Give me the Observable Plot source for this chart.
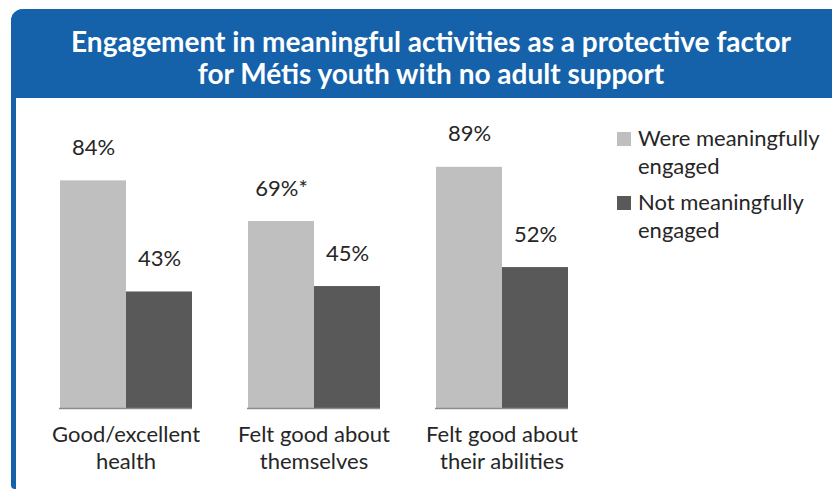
<!DOCTYPE html>
<html>
<head>
<meta charset="utf-8">
<script src="https://cdn.jsdelivr.net/npm/d3@7"></script>
<script src="https://cdn.jsdelivr.net/npm/@observablehq/plot@0.6"></script>
<style>
  html, body { margin: 0; padding: 0; background: #fff; overflow: hidden; width: 832px; height: 491px; }
  body { position: relative; font-family: Lato, "Noto Sans", sans-serif; color: #262626; }
  #frame { position: absolute; left: 11px; top: 9px; width: 840px; height: 480px; border-left: 5px solid #1562ab; border-top-left-radius: 12px; border-bottom-left-radius: 4px; box-sizing: border-box; }
  #header { position: absolute; left: 11px; top: 9px; width: 840px; height: 89px; background: #1562ab; border-top-left-radius: 12px; color: #fff; font-weight: bold; font-size: 28px; line-height: 32px; text-align: center; padding-top: 16px; box-sizing: border-box; }
  #chart { position: absolute; left: 17px; top: 98px; }
  #legend { position: absolute; left: 617px; top: 124px; font-size: 22px; line-height: 28px; }
  .item { display: flex; align-items: flex-start; margin-bottom: 8px; }
  .sw { width: 14px; height: 14px; margin-top: 8px; margin-right: 7px; flex: none; }
</style>
</head>
<body>
<div id="frame"></div>
<div id="header">Engagement in meaningful activities as a protective factor<br>for Métis youth with no adult support</div>
<div id="chart"></div>
<div id="legend"></div>
<script>
const categories = ["Good/excellent\nhealth", "Felt good about\nthemselves", "Felt good about\ntheir abilities"];
const seriesNames = ["Were meaningfully engaged", "Not meaningfully engaged"];
const legendLabels = ["Were meaningfully\nengaged", "Not meaningfully\nengaged"];
const engagedValues = [84, 69, 89];
const notEngagedValues = [43, 45, 52];
const engagedNotes = ["", "*", ""];
const notEngagedNotes = ["", "", ""];
const seriesColors = ["#bfbfbf", "#595959"];

const data = [];
categories.forEach((c, i) => {
  data.push({category: c, series: seriesNames[0], value: engagedValues[i], label: engagedValues[i] + "%" + engagedNotes[i]});
  data.push({category: c, series: seriesNames[1], value: notEngagedValues[i], label: notEngagedValues[i] + "%" + notEngagedNotes[i]});
});

const chart = Plot.plot({
  width: 583,
  height: 393,
  marginLeft: 14,
  marginRight: 3,
  marginTop: 39,
  marginBottom: 83,
  style: {background: "transparent", fontFamily: "Lato, 'Noto Sans', sans-serif", fontSize: "22px", color: "#262626"},
  fx: {domain: categories, paddingInner: 0.29, paddingOuter: 0.145, axis: null, label: null},
  x: {domain: seriesNames, padding: 0, axis: null, label: null},
  y: {domain: [0, 100], axis: null, label: null},
  color: {domain: seriesNames, range: seriesColors},
  marks: [
    Plot.barY(data, {fx: "category", x: "series", y: "value", fill: "series"}),
    Plot.text(data, {fx: "category", x: "series", y: "value", text: "label", dy: -33, fontSize: 22, fill: "#262626"}),
    Plot.ruleY([0], {stroke: "#8c8c8c", strokeWidth: 1.5}),
    Plot.text(categories, {fx: d => d, text: d => d, frameAnchor: "bottom", lineAnchor: "top", dy: 14, lineHeight: 1.23, fontSize: 22, fill: "#262626"})
  ]
});
document.getElementById("chart").appendChild(chart);

const legend = document.getElementById("legend");
legendLabels.forEach((l, i) => {
  const item = document.createElement("div");
  item.className = "item";
  const sw = document.createElement("div");
  sw.className = "sw";
  sw.style.background = seriesColors[i];
  const t = document.createElement("div");
  t.innerHTML = l.replace("\n", "<br>");
  item.appendChild(sw);
  item.appendChild(t);
  legend.appendChild(item);
});
</script>
</body>
</html>
